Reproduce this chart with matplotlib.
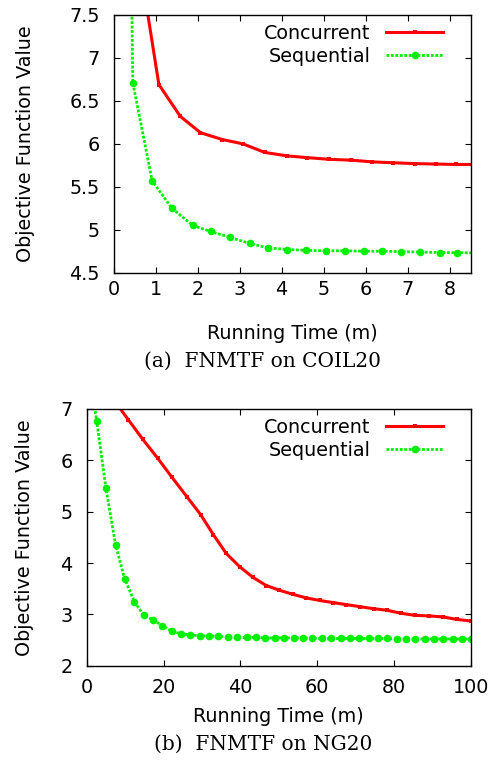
import matplotlib
matplotlib.use("Agg")
import matplotlib.pyplot as plt

# (a) FNMTF on COIL20
coil_conc_x = [0.56, 1.08, 1.59, 2.07, 2.59, 3.08, 3.60, 4.13, 4.60, 5.13, 5.66, 6.16, 6.65, 7.17, 7.67, 8.16, 8.68]
coil_conc_y = [8.30, 6.69, 6.32, 6.13, 6.05, 6.00, 5.90, 5.86, 5.84, 5.82, 5.81, 5.79, 5.78, 5.77, 5.765, 5.76, 5.76]
coil_seq_x = [0.00, 0.46, 0.92, 1.39, 1.89, 2.31, 2.78, 3.24, 3.67, 4.13, 4.59, 5.05, 5.50, 5.96, 6.40, 6.85, 7.30, 7.76, 8.18, 8.64]
coil_seq_y = [24.0, 6.71, 5.57, 5.25, 5.05, 4.98, 4.91, 4.84, 4.79, 4.77, 4.76, 4.755, 4.755, 4.75, 4.75, 4.745, 4.74, 4.735, 4.733, 4.73]

# (b) FNMTF on NG20
ng_conc_x = [3.5, 7.2, 10.85, 14.6, 18.5, 22.2, 26.1, 29.7, 33.0, 36.3, 39.8, 43.3, 46.8, 50.2, 53.7, 57.2,
             60.7, 64.1, 67.6, 71.1, 74.7, 78.2, 81.9, 85.6, 89.1, 92.8, 96.5, 100.1]
ng_conc_y = [7.50, 7.16, 6.79, 6.41, 6.04, 5.67, 5.29, 4.94, 4.55, 4.19, 3.93, 3.72, 3.56, 3.47, 3.39, 3.32,
             3.27, 3.23, 3.19, 3.15, 3.11, 3.08, 3.02, 2.98, 2.97, 2.95, 2.90, 2.87]
ng_seq_x = [0.2, 2.6, 5.0, 7.5, 9.9, 12.4, 14.8, 17.3, 19.7, 22.1, 24.6, 27.0, 29.5, 31.9, 34.3, 36.8, 39.2,
            41.7, 44.1, 46.5, 49.0, 51.4, 53.9, 56.3, 58.7, 61.2, 63.6, 66.1, 68.5, 70.9, 73.4, 75.8, 78.3,
            80.7, 83.1, 85.6, 88.0, 90.5, 92.9, 95.3, 97.8, 100.2]
ng_seq_y = [7.90, 6.77, 5.46, 4.36, 3.69, 3.25, 2.99, 2.89, 2.78, 2.67, 2.62, 2.60, 2.58, 2.58, 2.57, 2.56, 2.55,
            2.55, 2.55, 2.54, 2.54, 2.54, 2.54, 2.54, 2.53, 2.53, 2.53, 2.53, 2.53, 2.53, 2.53, 2.53, 2.53,
            2.52, 2.52, 2.52, 2.52, 2.52, 2.52, 2.52, 2.52, 2.52]

coil_xticks = [0, 1, 2, 3, 4, 5, 6, 7, 8]
coil_yticks = [4.5, 5, 5.5, 6, 6.5, 7, 7.5]
coil_ytick_labels = ["4.5", "5", "5.5", "6", "6.5", "7", "7.5"]
ng_xticks = [0, 20, 40, 60, 80, 100]
ng_yticks = [2, 3, 4, 5, 6, 7]

plt.rcParams['font.family'] = ['DejaVu Sans']
FS = 13.8

fig = plt.figure(figsize=(4.93, 7.68), dpi=100)


def draw(ax, cx, cy, sx, sy, xpad, lpad, axw):
    ax.plot(cx, cy, color='#ff0000', lw=2.2, marker='s', ms=3.5, mew=0,
            label='Concurrent')
    ax.plot(sx, sy, color='#00f000', lw=2.0, dashes=(1.0, 0.6), marker='o', ms=5.5, mew=0,
            label='Sequential')
    ax.tick_params(direction='in', length=4, width=0.8, top=True, right=True,
                   labelsize=FS)
    ax.tick_params(axis='y', pad=10)
    ax.tick_params(axis='x', pad=xpad)
    for s in ax.spines.values():
        s.set_linewidth(1.0)
    ax.set_ylabel('Objective Function Value', fontsize=FS)
    ax.set_xlabel('Running Time (m)', fontsize=FS, labelpad=lpad)
    ax.legend(loc='upper right', frameon=False, markerfirst=False, fontsize=FS,
              handlelength=2.97, labelspacing=0.2, borderpad=0.0, borderaxespad=0.0,
              handletextpad=0.8, bbox_to_anchor=(1 - 27.7 / axw, 0.966))


ax1 = fig.add_axes([113.5 / 493, 1 - 272.7 / 768, 357.2 / 493, 257.7 / 768])
draw(ax1, coil_conc_x, coil_conc_y, coil_seq_x, coil_seq_y, 5, 18, 357.2)
ax1.set_xlim(0, 8.5)
ax1.set_ylim(4.5, 7.5)
ax1.set_xticks(coil_xticks)
ax1.set_yticks(coil_yticks)
ax1.set_yticklabels(coil_ytick_labels)
ax1.yaxis.set_label_coords((35 - 113.5) / 357.2, 0.5)

ax2 = fig.add_axes([86.7 / 493, 1 - 665.7 / 768, 384 / 493, 256.7 / 768])
draw(ax2, ng_conc_x, ng_conc_y, ng_seq_x, ng_seq_y, 9, 7, 384)
ax2.set_xlim(0, 100)
ax2.set_ylim(2, 7)
ax2.set_xticks(ng_xticks)
ax2.set_yticks(ng_yticks)
ax2.yaxis.set_label_coords((34 - 86.7) / 384, 0.5)

fig.text(262 / 493, 1 - 361 / 768, '(a)  FNMTF on COIL20', ha='center', va='center',
         fontsize=14.5, family='DejaVu Serif')
fig.text(263 / 493, 1 - 744 / 768, '(b)  FNMTF on NG20', ha='center', va='center',
         fontsize=14.5, family='DejaVu Serif')

fig.savefig('out.png', dpi=100)
